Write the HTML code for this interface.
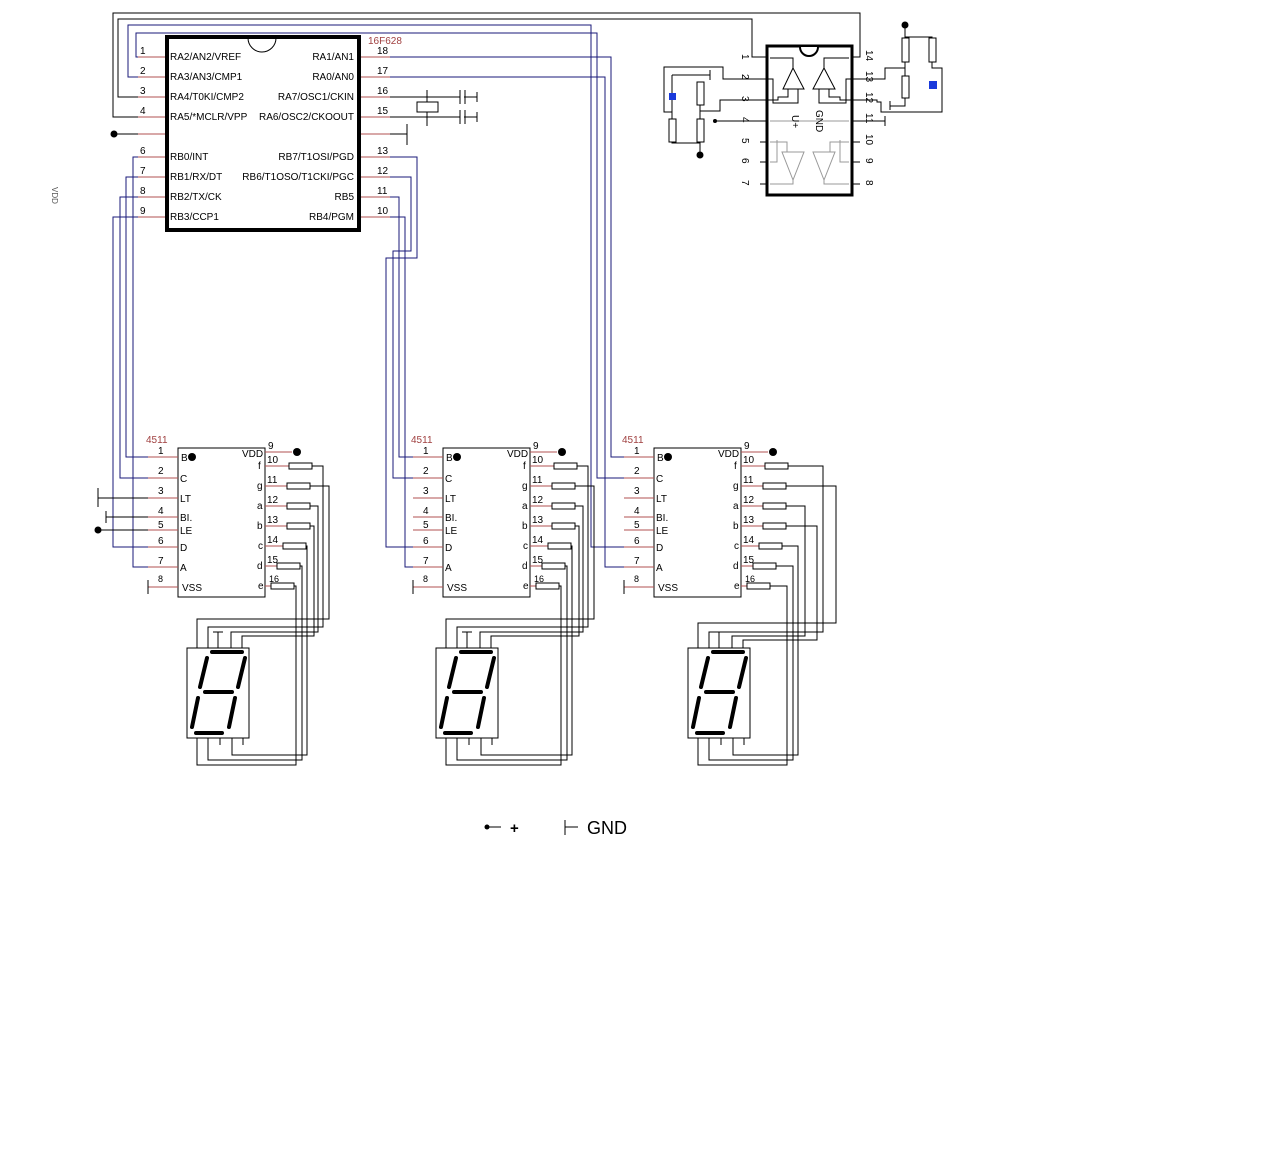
<!DOCTYPE html>
<html><head><meta charset="utf-8"><style>
html,body{margin:0;padding:0;background:#fff}
svg{display:block}
text{font-family:"Liberation Sans",sans-serif;font-size:10px;fill:#000}
.r{stroke:#b05050;stroke-width:1;fill:none}
.b{stroke:#1a1a7a;stroke-width:1;fill:none}
.k{stroke:#000;stroke-width:1;fill:none}
.g{stroke:#999;stroke-width:1;fill:none}
.red{fill:#a04040}
.gt{fill:#999;font-size:11px}
</style></head><body>
<svg width="1283" height="1171" viewBox="0 0 1283 1171" xmlns="http://www.w3.org/2000/svg">
<defs>
<g id="blk">
<rect x="178" y="448" width="87" height="149" fill="#fff" stroke="#000"/>
<text x="146" y="443" class="red">4511</text>
<path class="r" d="M148 457H178M148 478H178M148 498H178M148 517H178M148 530H178M148 547H178M148 567H178M148 587H178"/>
<text x="158" y="454">1</text><text x="158" y="474">2</text><text x="158" y="494">3</text><text x="158" y="514">4</text><text x="158" y="528">5</text><text x="158" y="544">6</text><text x="158" y="564">7</text><text x="158" y="582" style="font-size:9px">8</text>
<text x="181" y="461">B</text><circle cx="192" cy="457" r="4"/>
<text x="180" y="482">C</text><text x="180" y="502">LT</text><text x="180" y="521">BI.</text><text x="180" y="534">LE</text><text x="180" y="551">D</text><text x="180" y="571">A</text><text x="182" y="591">VSS</text>
<text x="242" y="457">VDD</text>
<path class="r" d="M265 452H292M265 466H289M265 486H287M265 506H287M265 526H287M265 546H283M265 566H277M265 586H271"/>
<circle cx="297" cy="452" r="4"/>
<text x="268" y="449">9</text><text x="267" y="463">10</text><text x="267" y="483">11</text><text x="267" y="503">12</text><text x="267" y="523">13</text><text x="267" y="543">14</text><text x="267" y="563">15</text><text x="269" y="582" style="font-size:9px">16</text>
<text x="258" y="469">f</text><text x="257" y="489">g</text><text x="257" y="509">a</text><text x="257" y="529">b</text><text x="258" y="549">c</text><text x="257" y="569">d</text><text x="258" y="589">e</text>
<g fill="#fff" stroke="#000">
<rect x="289" y="463" width="23" height="6"/><rect x="287" y="483" width="23" height="6"/><rect x="287" y="503" width="23" height="6"/><rect x="287" y="523" width="23" height="6"/><rect x="283" y="543" width="23" height="6"/><rect x="277" y="563" width="23" height="6"/><rect x="271" y="583" width="23" height="6"/>
</g>
</g>
<g id="disp">
<rect x="187" y="648" width="62" height="90" fill="#fff" stroke="#000"/>
<g stroke="#000" stroke-width="4" stroke-linecap="round">
<path d="M212 652H242M207 658L200 687M245 658L238 687M205 692H232M198 698L192 727M235 698L229 727M196 733H222"/>
</g>
<path class="k" d="M218 632V648M213 632H223M220 738V745M243 738V745"/>
</g>
</defs>

<text x="52" y="187" transform="rotate(90 52 187)" style="font-size:8px;fill:#555">VDD</text>

<!-- PIC -->
<rect x="167" y="37" width="192" height="193" fill="#fff" stroke="#000" stroke-width="4"/>
<path d="M248 38A14 14 0 0 0 276 38" class="k"/>
<text x="368" y="44" class="red">16F628</text>
<path class="r" d="M138 57H165M138 77H165M138 97H165M138 117H165M138 134H165M138 157H165M138 177H165M138 197H165M138 217H165"/>
<path class="r" d="M361 57H390M361 77H390M361 97H390M361 117H390M361 134H390M361 157H390M361 177H390M361 197H390M361 217H390"/>
<text x="140" y="54">1</text><text x="140" y="74">2</text><text x="140" y="94">3</text><text x="140" y="114">4</text><text x="140" y="154">6</text><text x="140" y="174">7</text><text x="140" y="194">8</text><text x="140" y="214">9</text>
<text x="377" y="54">18</text><text x="377" y="74">17</text><text x="377" y="94">16</text><text x="377" y="114">15</text><text x="377" y="154">13</text><text x="377" y="174">12</text><text x="377" y="194">11</text><text x="377" y="214">10</text>
<text x="170" y="60">RA2/AN2/VREF</text><text x="170" y="80">RA3/AN3/CMP1</text><text x="170" y="100">RA4/T0KI/CMP2</text><text x="170" y="120">RA5/*MCLR/VPP</text>
<text x="170" y="160">RB0/INT</text><text x="170" y="180">RB1/RX/DT</text><text x="170" y="200">RB2/TX/CK</text><text x="170" y="220">RB3/CCP1</text>
<g text-anchor="end"><text x="354" y="60">RA1/AN1</text><text x="354" y="80">RA0/AN0</text><text x="354" y="100">RA7/OSC1/CKIN</text><text x="354" y="120">RA6/OSC2/CKOOUT</text>
<text x="354" y="160">RB7/T1OSI/PGD</text><text x="354" y="180">RB6/T1OSO/T1CKI/PGC</text><text x="354" y="200">RB5</text><text x="354" y="220">RB4/PGM</text></g>
<circle cx="114" cy="134" r="3.5"/><path class="k" d="M114 134H138"/>
<path class="k" d="M390 134H407M407 124V145"/>
<path class="k" d="M390 97H460M390 117H460M427 90V102M427 112V126M464 97H477M464 117H477M477 92V102M477 112V122M460 90V104M465 90V104M460 110V124M465 110V124"/>
<rect x="417" y="102" width="21" height="10" fill="#fff" stroke="#000"/>

<path class="k" d="M138 117H113V13H860V57H852"/>
<path class="k" d="M138 97H118V19H752V57H767"/>
<path class="b" d="M138 77H128V25H591V547H654"/>
<path class="b" d="M138 57H136V33H597V478H654"/>
<path class="b" d="M390 57H611V457H654"/>
<path class="b" d="M390 77H605V567H654"/>
<path class="b" d="M138 157H133V567H148"/>
<path class="b" d="M138 177H126V457H148"/>
<path class="b" d="M138 197H120V478H148"/>
<path class="b" d="M138 217H113V547H148"/>
<path class="b" d="M390 157H417V258H386V547H413"/>
<path class="b" d="M390 177H411V251H393V478H413"/>
<path class="b" d="M390 197H399V457H413"/>
<path class="b" d="M390 217H405V567H413"/>

<use href="#blk"/>
<use href="#blk" transform="translate(265 0)"/>
<use href="#blk" transform="translate(476 0)"/>
<use href="#disp"/>
<use href="#disp" transform="translate(249 0)"/>
<use href="#disp" transform="translate(501 0)"/>

<path class="k" d="M98 498H148M98 488V507M106 517H148M106 511V523M98 530H148M148 580V594M413 580V594M624 580V594"/>
<circle cx="98" cy="530" r="3.5"/>

<path class="k" d="M312 466H323V627H208V648M310 486H329V619H197V648M310 506H318V632H231V648M310 526H314V636H242V648M306 546H307V755H232V738M300 566H302V760H208V738M294 586H296V765H197V738"/>
<path class="k" d="M577 466H588V627H457V648M575 486H594V619H446V648M575 506H583V632H480V648M575 526H579V636H491V648M571 546H572V755H481V738M565 566H567V760H457V738M559 586H561V765H446V738"/>
<path class="k" d="M788 466H823V632H709V648M786 486H836V623H698V648M786 506H805V636H732V648M786 526H817V640H743V648M782 546H798V755H733V738M776 566H793V760H709V738M770 586H787V765H698V738"/>

<rect x="767" y="46" width="85" height="149" fill="#fff" stroke="#000" stroke-width="3"/>
<path d="M800 47A9 9 0 0 0 818 47" fill="#fff" stroke="#000" stroke-width="2"/>
<g class="k" stroke-width="2">
<path d="M770 58H793V68M767 79H773V103H798V89M767 100H778V97H788V89"/>
<path d="M849 58H824V68M852 79H846V103H819V89M852 100H840V97H829V89"/>
</g>
<path class="k" d="M793 68L783 89H804ZM824 68L813 89H835Z" fill="#fff"/>
<path class="g" d="M793 180L782 152H804ZM824 180L813 152H835ZM770 142H787V152M770 162H777V140M770 184H793V180M849 142H830V152M849 162H840V140M849 184H824V180M770 121H849"/>
<path class="k" d="M760 142H767M760 162H767M760 184H767M852 142H860M852 162H860M852 184H860M852 121H885M885 116V126"/>
<g class="gt">
<text x="742" y="54" transform="rotate(90 742 54)">1</text><text x="742" y="74" transform="rotate(90 742 74)">2</text><text x="742" y="96" transform="rotate(90 742 96)">3</text><text x="742" y="117" transform="rotate(90 742 117)">4</text><text x="742" y="138" transform="rotate(90 742 138)">5</text><text x="742" y="158" transform="rotate(90 742 158)">6</text><text x="742" y="180" transform="rotate(90 742 180)">7</text>
<text x="866" y="50" transform="rotate(90 866 50)">14</text><text x="866" y="71" transform="rotate(90 866 71)">13</text><text x="866" y="92" transform="rotate(90 866 92)">12</text><text x="866" y="113" transform="rotate(90 866 113)">11</text><text x="866" y="134" transform="rotate(90 866 134)">10</text><text x="866" y="158" transform="rotate(90 866 158)">9</text><text x="866" y="180" transform="rotate(90 866 180)">8</text>
<text x="792" y="115" transform="rotate(90 792 115)">U+</text><text x="816" y="110" transform="rotate(90 816 110)">GND</text>
</g>
<path class="k" d="M767 79H723V67H664V112H672M672 75H710M710 70V80M672 75V143H700V155M700 82V143M767 100H720V111H700"/>
<circle cx="715" cy="121" r="2"/><path class="k" d="M715 121H767"/>
<circle cx="700" cy="155" r="3.5"/>
<g fill="#fff" stroke="#000"><rect x="669" y="119" width="7" height="23"/><rect x="697" y="82" width="7" height="23"/><rect x="697" y="119" width="7" height="23"/></g>
<rect x="669" y="93" width="7" height="7" fill="#1a3adb"/>
<circle cx="905" cy="25" r="3.5"/>
<path class="k" d="M905 25V106H890M890 101V110M905 37H932V68H942V112H881V102H877V100H852M852 79H885V68H905"/>
<g fill="#fff" stroke="#000"><rect x="902" y="38" width="7" height="24"/><rect x="929" y="38" width="7" height="24"/><rect x="902" y="76" width="7" height="22"/></g>
<rect x="929" y="81" width="8" height="8" fill="#1a3adb"/>

<circle cx="487" cy="827" r="2.5"/><path class="k" d="M487 827H501M565 820V835M565 827H578"/>
<text x="510" y="833" style="font-size:15px;font-weight:bold">+</text>
<text x="587" y="834" style="font-size:18px">GND</text>
</svg>
</body></html>
